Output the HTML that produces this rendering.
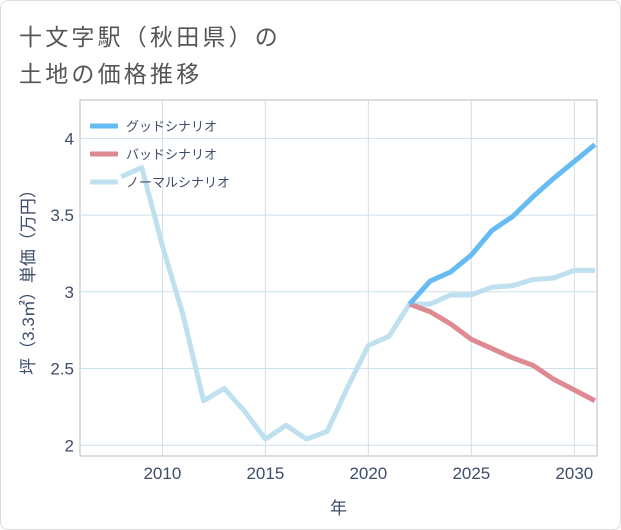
<!DOCTYPE html>
<html><head><meta charset="utf-8"><style>
body{margin:0;background:#fff;font-family:"Liberation Sans","Noto Sans CJK JP",sans-serif}
#wrap{position:relative;width:619px;height:528px;border:1px solid #ddd;border-radius:8px;background:#fff}
.t{position:absolute;left:18px;font-size:23px;color:#555;letter-spacing:3.2px}
</style></head><body>
<div id="wrap">
<div class="t" style="top:17px">十文字駅（秋田県）の</div>
<div class="t" style="top:54px">土地の価格推移</div>
<svg id="c" width="621" height="530" style="position:absolute;left:-1px;top:-1px"></svg>
</div>
<script>
const years=[2008,2009,2010,2011,2012,2013,2014,2015,2016,2017,2018,2019,2020,2021,2022,2023,2024,2025,2026,2027,2028,2029,2030,2031];
const normal=[3.75,3.81,3.3,2.85,2.29,2.37,2.22,2.04,2.13,2.04,2.09,2.38,2.65,2.71,2.92,2.92,2.98,2.98,3.03,3.04,3.08,3.09,3.14,3.14];
const fYears=[2022,2023,2024,2025,2026,2027,2028,2029,2030,2031];
const good=[2.92,3.07,3.13,3.24,3.40,3.49,3.62,3.74,3.85,3.96];
const bad=[2.92,2.87,2.79,2.69,2.63,2.57,2.52,2.43,2.36,2.29];
const xTicks=[2010,2015,2020,2025,2030];
const yTicks=[2,2.5,3,3.5,4];
const yLabels=["2","2.5","3","3.5","4"];
const L=80,R=597,T=100,B=456,x0=2006,x1=2031.1,y0=1.93,y1=4.25;
const X=v=>L+(v-x0)/(x1-x0)*(R-L), Y=v=>B-(v-y0)/(y1-y0)*(B-T);
const s=document.getElementById('c'),NS='http://www.w3.org/2000/svg';
const TC='#3d4d6a';
function mk(t,a,p){const e=document.createElementNS(NS,t);for(const k in a)e.setAttribute(k,a[k]);(p||s).appendChild(e);return e;}
let r=mk('rect',{x:L,y:T,width:R-L,height:B-T,fill:'none',stroke:'#bbb'});


xTicks.forEach(v=>{const g=mk('line',{x1:X(v),x2:X(v),y1:T,y2:B,stroke:'#cfe0ea'});


const t=mk('text',{x:X(v),y:B+23,'text-anchor':'middle','font-size':'17',fill:TC});t.textContent=v;

});
yTicks.forEach((v,i)=>{const g=mk('line',{x1:L,x2:R,y1:Y(v),y2:Y(v),stroke:'#cfe0ea'});


const t=mk('text',{x:L-6,y:Y(v)+6,'text-anchor':'end','font-size':'17',fill:TC});t.textContent=yLabels[i];

});
function line(xs,ys,c,n){const p=mk('polyline',{points:xs.map((x,i)=>X(x)+','+Y(ys[i])).join(' '),fill:'none',stroke:c,'stroke-width':5,'stroke-linejoin':'round'});

}
line(years,normal,'#bfe0ee','normal-scenario-line');
line(fYears,bad,'#de8a92','bad-scenario-line');
line(fYears,good,'#66bbf2','good-scenario-line');
const leg=[['グッドシナリオ','#66bbf2'],['バッドシナリオ','#de8a92'],['ノーマルシナリオ','#bfe0ee']];
leg.forEach((d,i)=>{const y=126+i*28;const l=mk('line',{x1:90,x2:118,y1:y,y2:y,stroke:d[1],'stroke-width':5});


const t=mk('text',{x:126,y:y+5,'font-size':'13',fill:TC});t.textContent=d[0];

});
const xt=mk('text',{x:(L+R)/2,y:514,'text-anchor':'middle','font-size':'17',fill:TC});xt.textContent='年';


const yt=mk('text',{x:0,y:0,'text-anchor':'middle','font-size':'17',fill:TC,transform:'translate(34,'+((T+B)/2)+') rotate(-90)'});yt.textContent='坪（3.3㎡）単価（万円）';


</script>
</body></html>
